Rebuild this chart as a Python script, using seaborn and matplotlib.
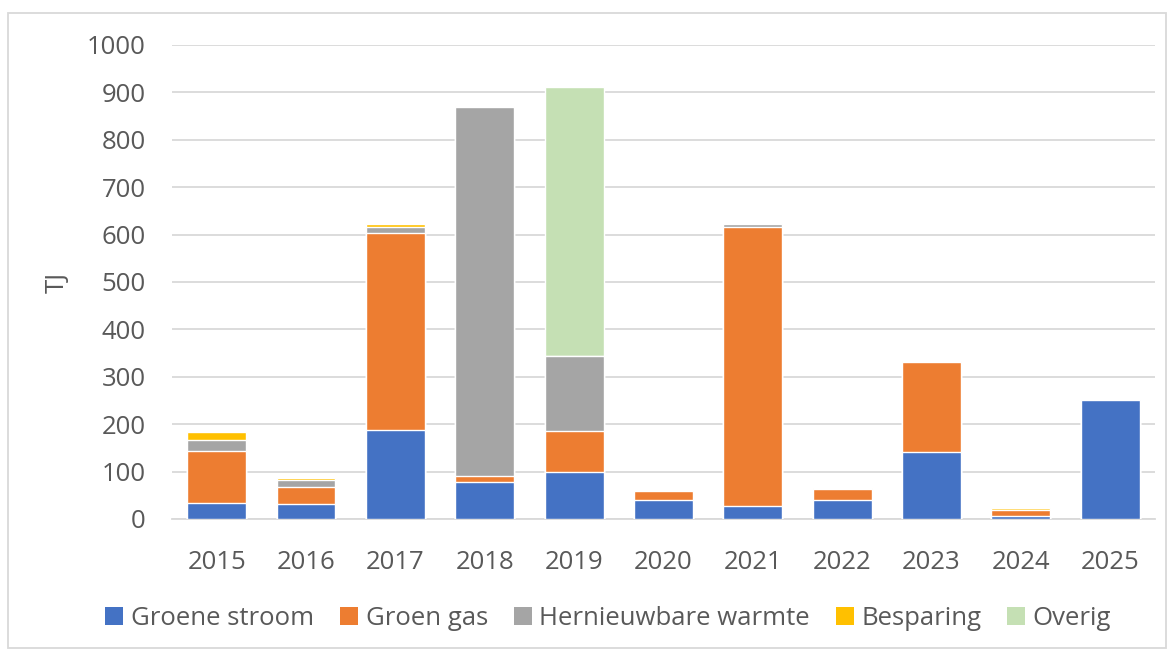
import matplotlib
matplotlib.use("Agg")
import matplotlib.pyplot as plt
from matplotlib.patches import Patch, Rectangle
import seaborn as sns
import pandas as pd
import numpy as np

# Data (TJ per year)
years = ['2015', '2016', '2017', '2018', '2019', '2020', '2021', '2022', '2023', '2024', '2025']
groene_stroom = [33, 31, 188, 77, 99, 41, 27, 39, 142, 6, 252]
groen_gas = [110, 36, 415, 14, 86, 17, 590, 25, 190, 13, 0]
hernieuwbare_warmte = [23, 15, 12, 778, 158, 0, 5, 0, 0, 0, 0]
besparing = [17, 5, 7, 3, 0, 0, 1, 1, 1, 4, 0]
overig = [0, 0, 0, 0, 568, 0, 0, 0, 0, 0, 0]

series = ['Groene stroom', 'Groen gas', 'Hernieuwbare warmte', 'Besparing', 'Overig']
colors = ['#4472C4', '#ED7D31', '#A5A5A5', '#FFC000', '#C5E0B4']

df = pd.DataFrame({
    'Jaar': years,
    'Groene stroom': groene_stroom,
    'Groen gas': groen_gas,
    'Hernieuwbare warmte': hernieuwbare_warmte,
    'Besparing': besparing,
    'Overig': overig,
})

# cumulative sums so each layer can be drawn from the top down
cum = df[series].cumsum(axis=1)
cum['Jaar'] = df['Jaar']

sns.set_style('white')
plt.rcParams['font.family'] = ['Open Sans', 'DejaVu Sans']
text_color = '#595959'
fs = 18.5

fig = plt.figure(figsize=(11.7, 6.51), dpi=100)
ax = fig.add_axes([0.147, 0.2028, 0.84, 0.7281])

for name, col in reversed(list(zip(series, colors))):
    sns.barplot(data=cum, x='Jaar', y=name, color=col, order=years,
                width=0.66, saturation=1, ax=ax, zorder=3)

ax.set_ylim(0, 1000)
ax.set_xlim(-0.5, len(years) - 0.5)
ax.set_yticks(np.arange(0, 1001, 100))
ax.yaxis.grid(True, color='#D9D9D9', linewidth=1.3, zorder=0)
ax.set_axisbelow(True)
for s in ['top', 'right', 'left']:
    ax.spines[s].set_visible(False)
ax.spines['bottom'].set_color('#D9D9D9')
ax.spines['bottom'].set_linewidth(1.3)
ax.tick_params(axis='both', length=0, labelsize=fs, colors=text_color)
ax.tick_params(axis='y', pad=19)
ax.tick_params(axis='x', pad=22)
ax.set_xlabel('')
ax.set_ylabel('TJ', fontsize=fs, color=text_color, labelpad=12)

handles = [Patch(facecolor=c, edgecolor='none') for c in colors]
fig.legend(handles, series, loc='center', bbox_to_anchor=(0.52, 0.05), ncol=5,
           frameon=False, fontsize=fs, handlelength=0.7, handleheight=0.7,
           handletextpad=0.3, columnspacing=1.0, labelcolor=text_color)

# light chart border like the Excel chart area
fig.patches.append(Rectangle((8 / 1170, 3 / 651), 1158 / 1170, 635 / 651,
                             transform=fig.transFigure, fill=False,
                             edgecolor='#D9D9D9', linewidth=1.3))

fig.savefig('out.png', dpi=100, facecolor='white')
